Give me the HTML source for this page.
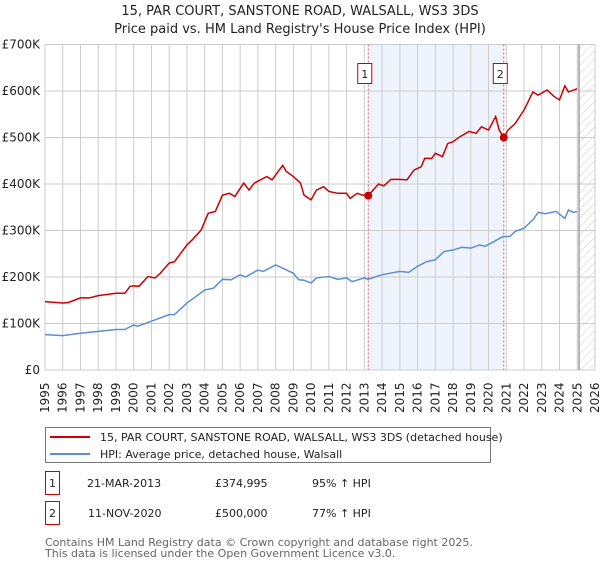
<!DOCTYPE html>
<html><head><meta charset="utf-8"><style>
body{margin:0;background:#fff;width:600px;height:560px;overflow:hidden;font-family:"DejaVu Sans","Liberation Sans",sans-serif;}
svg text{font-family:"DejaVu Sans","Liberation Sans",sans-serif;}
</style></head><body>
<svg id="chart" width="600" height="560" xmlns="http://www.w3.org/2000/svg">
<defs><pattern id="hatch" width="6" height="6" patternUnits="userSpaceOnUse" patternTransform="rotate(45)"><line x1="0" y1="0" x2="0" y2="6" stroke="#ccc" stroke-width="1"/></pattern></defs>
<text x="300" y="15" text-anchor="middle" font-size="13" fill="#222">15, PAR COURT, SANSTONE ROAD, WALSALL, WS3 3DS</text>
<text x="300" y="33" text-anchor="middle" font-size="13" fill="#222">Price paid vs. HM Land Registry's House Price Index (HPI)</text>
<g id="plot"></g>
<g>
<rect x="45.5" y="427.5" width="445" height="35" fill="#fff" stroke="#777"/>
<line x1="50" y1="437" x2="90" y2="437" stroke="#cc0000" stroke-width="2"/>
<text x="100" y="441" font-size="11" fill="#222">15, PAR COURT, SANSTONE ROAD, WALSALL, WS3 3DS (detached house)</text>
<line x1="50" y1="454" x2="90" y2="454" stroke="#5b8fd4" stroke-width="2"/>
<text x="100" y="458" font-size="11" fill="#222">HPI: Average price, detached house, Walsall</text>
</g>
<g font-size="11" fill="#222">
<rect x="45.5" y="471.5" width="14" height="23" fill="#fff" stroke="#cc0000"/>
<text x="52.5" y="487" text-anchor="middle">1</text>
<text x="87" y="487">21-MAR-2013</text><text x="215" y="487">£374,995</text><text x="312" y="487">95% ↑ HPI</text>
</g>
<g font-size="11" fill="#222">
<rect x="45.5" y="501.5" width="14" height="23" fill="#fff" stroke="#cc0000"/>
<text x="52.5" y="517" text-anchor="middle">2</text>
<text x="88" y="517">11-NOV-2020</text><text x="215" y="517">£500,000</text><text x="312" y="517">77% ↑ HPI</text>
</g>
<text font-size="11" fill="#666"><tspan x="45" y="546">Contains HM Land Registry data © Crown copyright and database right 2025.</tspan><tspan x="45" y="557">This data is licensed under the Open Government Licence v3.0.</tspan></text>
</svg>
<script>
const yearTicks=[1995,1996,1997,1998,1999,2000,2001,2002,2003,2004,2005,2006,2007,2008,2009,2010,2011,2012,2013,2014,2015,2016,2017,2018,2019,2020,2021,2022,2023,2024,2025,2026];
const valueTicks=[0,100,200,300,400,500,600,700];
const valueLabels=["£0","£100K","£200K","£300K","£400K","£500K","£600K","£700K"];
const redYears=[1995,1996,1996.3,1997,1997.5,1998,1999,1999.5,1999.8,2000,2000.3,2000.8,2001.2,2001.5,2002,2002.3,2003,2003.3,2003.8,2004.2,2004.6,2005,2005.4,2005.7,2006.2,2006.5,2006.8,2007.5,2007.8,2008.2,2008.4,2008.6,2009,2009.4,2009.6,2010,2010.3,2010.7,2011,2011.5,2012,2012.2,2012.6,2012.9,2013.22,2013.5,2013.8,2014.1,2014.5,2015,2015.4,2015.8,2016.2,2016.4,2016.8,2017,2017.4,2017.7,2018,2018.4,2018.9,2019.3,2019.6,2020,2020.4,2020.6,2020.86,2021.1,2021.5,2022,2022.5,2022.8,2023.3,2023.7,2024,2024.3,2024.5,2024.8,2025];
const redValues=[147,144,145,155,155,160,165,165,180,181,180,201,198,208,230,233,269,280,301,337,341,376,380,373,402,387,402,416,409,430,440,427,416,402,376,366,387,394,384,380,380,369,380,376,375,387,400,396,410,410,409,430,437,455,455,466,459,487,491,502,513,509,523,516,545,516,500,516,530,559,598,591,602,588,581,611,598,602,605];
const hpiYears=[1995,1996,1997,1998,1999,1999.5,2000,2000.2,2001,2002,2002.3,2003,2004,2004.5,2005,2005.5,2006,2006.3,2007,2007.3,2008,2008.4,2009,2009.3,2009.6,2010,2010.3,2011,2011.5,2012,2012.3,2013,2013.2,2014,2015,2015.5,2016,2016.5,2017,2017.5,2018,2018.5,2019,2019.5,2019.8,2020.3,2020.8,2021.2,2021.5,2022,2022.5,2022.8,2023.2,2023.8,2024.3,2024.5,2024.8,2025];
const hpiValues=[76,74,79,83,87,87,97,94,105,119,119,144,172,176,195,194,205,200,215,212,226,219,208,194,193,187,198,201,195,198,190,198,195,205,212,210,223,233,237,255,258,264,262,269,266,276,287,287,298,305,323,339,336,341,326,344,339,341];
const saleYears=[2013.22,2020.86];
const saleValues=[374.995,500];
const saleLabels=["1","2"];
const NS="http://www.w3.org/2000/svg";
const L=45,R=595,T=44.5,B=370;
const X=y=>L+(y-1995)*(R-L)/31;
const Y=v=>B-v*(B-T)/700;
const g=document.getElementById('plot');
function mk(tag,attrs){const e=document.createElementNS(NS,tag);for(const k in attrs)e.setAttribute(k,attrs[k]);g.appendChild(e);return e;}
let e=mk('rect',{x:X(saleYears[0]),y:T,width:X(saleYears[1])-X(saleYears[0]),height:B-T,fill:'#eef3fc'});


yearTicks.forEach(yr=>{const l=mk('line',{x1:X(yr),x2:X(yr),y1:T,y2:B,stroke:'#ccc'});


const t=mk('text',{x:0,y:0,'font-size':12,fill:'#222',transform:`translate(${X(yr)+4},${B+43}) rotate(-90)`});t.textContent=yr;

});
valueTicks.forEach((v,i)=>{const l=mk('line',{x1:L,x2:R,y1:Y(v),y2:Y(v),stroke:'#ccc'});


const t=mk('text',{x:40,y:Y(v)+4,'text-anchor':'end','font-size':12,fill:'#222'});t.textContent=valueLabels[i];

});
e=mk('rect',{x:X(2025.1),y:T,width:R-X(2025.1),height:B-T,fill:'url(#hatch)'});


e=mk('line',{x1:X(2025.1),x2:X(2025.1),y1:T,y2:B,stroke:'#888','stroke-width':1.2});


saleYears.forEach((yr,i)=>{const l=mk('line',{x1:X(yr),x2:X(yr),y1:T,y2:B,stroke:'#e06060','stroke-dasharray':'2,2'});


const r=mk('rect',{x:X(yr)-10.5,y:63.5,width:14,height:20,fill:'#fff',stroke:'#cc0000'});


const t=mk('text',{x:X(yr)-3.5,y:78,'text-anchor':'middle','font-size':11,fill:'#222'});t.textContent=saleLabels[i];

});
e=mk('polyline',{points:hpiYears.map((y,i)=>X(y)+','+Y(hpiValues[i])).join(' '),fill:'none',stroke:'#5b8fd4','stroke-width':1.5});


e=mk('polyline',{points:redYears.map((y,i)=>X(y)+','+Y(redValues[i])).join(' '),fill:'none',stroke:'#cc0000','stroke-width':1.5});


saleYears.forEach((yr,i)=>{const c=mk('circle',{cx:X(yr),cy:Y(saleValues[i]),r:4,fill:'#cc0000'});

});
</script>
</body></html>
